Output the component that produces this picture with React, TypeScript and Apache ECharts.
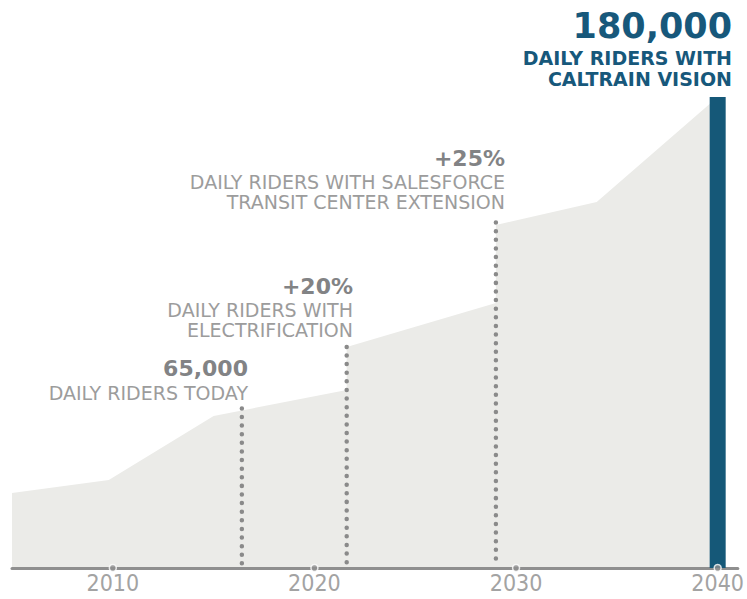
import React, { useEffect, useRef } from "react";
import * as echarts from "echarts";

// Ridership projection (area outline)
const areaYears = [2005, 2009.8, 2015, 2021.6, 2021.6, 2029, 2029, 2034, 2040];
const areaRiders = [28700, 33600, 58100, 68000, 84500, 101300, 131100, 139900, 180000];

// Caltrain vision bar
const visionYear = 2040;
const visionRiders = 180000;

// Dotted milestone markers
const markerYears = [2016.4, 2021.6, 2029];
const markerTops = [61000, 84500, 132000];
const markerBottom = 1200;

// Axis tick labels
const tickYears = [2010, 2020, 2030, 2040];

// Annotation texts
const visionNumber = "180,000";
const visionDesc = "DAILY RIDERS WITH\nCALTRAIN VISION";
const annNumbers = ["65,000", "+20%", "+25%"];
const annDescs = [
  "DAILY RIDERS TODAY",
  "DAILY RIDERS WITH\nELECTRIFICATION",
  "DAILY RIDERS WITH SALESFORCE\nTRANSIT CENTER EXTENSION",
];

export default function App() {
  const ref = useRef<HTMLDivElement>(null);

  useEffect(() => {
    if (!ref.current) return;
    const chart = echarts.init(ref.current, undefined, { renderer: "svg" });

    const grayNum = "#828385";
    const grayTxt = "#9c9c9c";
    const blue = "#17587b";

    // Annotation layout (right edge, number centre, description top, line height)
    const annLayout = [
      { right: 248, numY: 368, descTop: 383, lh: 20 },
      { right: 353, numY: 286, descTop: 299.5, lh: 20 },
      { right: 505, numY: 158.5, descTop: 172, lh: 20 },
    ];

    const graphic: any[] = [];
    annLayout.forEach((l, i) => {
      graphic.push({
        type: "text",
        x: l.right,
        y: l.numY,
        silent: true,
        style: {
          text: annNumbers[i],
          fill: grayNum,
          fontFamily: "DejaVu Sans",
          fontWeight: "bold",
          fontSize: 22,
          lineHeight: 22,
          align: "right",
          verticalAlign: "middle",
        },
      });
      graphic.push({
        type: "text",
        x: l.right,
        y: l.descTop,
        silent: true,
        style: {
          text: annDescs[i],
          fill: grayTxt,
          fontFamily: "DejaVu Sans",
          fontSize: 19,
          lineHeight: l.lh,
          align: "right",
          verticalAlign: "top",
        },
      });
    });
    graphic.push({
      type: "text",
      x: 732,
      y: 26,
      silent: true,
      style: {
        text: visionNumber,
        fill: blue,
        fontFamily: "DejaVu Sans",
        fontWeight: "bold",
        fontSize: 35,
        lineHeight: 35,
        align: "right",
        verticalAlign: "middle",
      },
    });
    graphic.push({
      type: "text",
      x: 732,
      y: 47.5,
      silent: true,
      style: {
        text: visionDesc,
        fill: blue,
        fontFamily: "DejaVu Sans",
        fontWeight: "bold",
        fontSize: 19,
        lineHeight: 21,
        align: "right",
        verticalAlign: "top",
      },
    });

    const markerSeries = markerYears.map((yr, i) => ({
      type: "line",
      data: [
        [yr, markerTops[i]],
        [yr, markerBottom],
      ],
      symbol: "none",
      silent: true,
      z: 3,
      lineStyle: {
        color: "#8a8a8a",
        width: 4.5,
        type: [0.01, 8.6],
        cap: "round",
      },
    }));

    chart.setOption({
      animation: false,
      backgroundColor: "#ffffff",
      grid: { left: 12, right: 3.5, top: 97, bottom: 31, containLabel: false },
      xAxis: {
        type: "value",
        min: 2005,
        max: 2041,
        z: 2,
        splitLine: { show: false },
        axisTick: { show: false },
        axisLine: { show: true, lineStyle: { color: "#8f8f8f", width: 3 } },
        axisLabel: {
          customValues: tickYears,
          formatter: (v: number) => String(v),
          color: "#a3a3a3",
          fontFamily: "'Liberation Sans Narrow', 'DejaVu Sans Condensed', Roboto, sans-serif",
          fontWeight: 300,
          fontSize: 23,
          margin: 3,
        },
      },
      yAxis: {
        type: "value",
        min: 0,
        max: 180000,
        show: false,
        splitLine: { show: false },
      },
      series: [
        {
          type: "line",
          data: areaYears.map((y, i) => [y, areaRiders[i]]),
          symbol: "none",
          silent: true,
          z: 1,
          lineStyle: { width: 0 },
          areaStyle: { color: "#ebebe8", opacity: 1 },
        },
        ...markerSeries,
        {
          type: "bar",
          data: [[visionYear, visionRiders]],
          barWidth: 16,
          silent: true,
          z: 4,
          itemStyle: { color: "#155878" },
        },
        {
          type: "scatter",
          data: tickYears.map((y) => [y, 0]),
          symbolSize: 7,
          clip: false,
          silent: true,
          z: 5,
          itemStyle: { color: "#8f8f8f", borderColor: "#ffffff", borderWidth: 1.5 },
        },
      ],
      graphic,
    });

    return () => chart.dispose();
  }, []);

  return (
    <div
      ref={ref}
      style={{ position: "fixed", left: 0, top: 0, width: 747, height: 599 }}
    />
  );
}
